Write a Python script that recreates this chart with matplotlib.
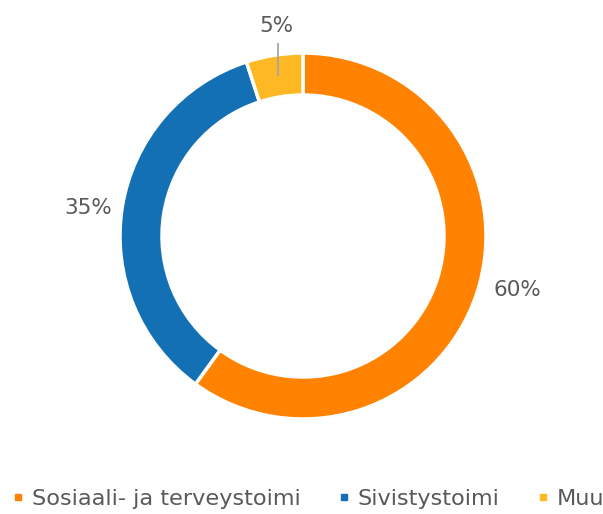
import matplotlib
matplotlib.use("Agg")
import matplotlib.pyplot as plt
from matplotlib.lines import Line2D
import numpy as np

categories = ["Sosiaali- ja terveystoimi", "Sivistystoimi", "Muu"]
values = [60, 35, 5]
labels = ["60%", "35%", "5%"]
colors = ["#FF8300", "#1470B5", "#FDB823"]

plt.rcParams['font.family'] = ['DejaVu Sans']
text_color = "#595959"

W, H = 603, 514
fig = plt.figure(figsize=(W / 100, H / 100), dpi=100)
ax = fig.add_axes([0, 0, 1, 1])
cx, cy = 303, H - 236
R = 183
width = 42

wedges, _ = ax.pie(values, colors=colors, startangle=90, counterclock=False,
                   radius=R, center=(cx, cy),
                   wedgeprops=dict(width=width, edgecolor="white", linewidth=2.5))

label_offsets = [(5, 14), (2, -6), (0, 0)]
for w, lab, off in zip(wedges, labels, label_offsets):
    ang = np.deg2rad((w.theta1 + w.theta2) / 2)
    if lab == "5%":
        rm = R - width / 2
        x0 = cx + rm * np.cos(ang)
        y0 = cy + rm * np.sin(ang)
        ax.plot([x0, x0], [y0, H - 43], color="#A6A6A6", lw=1.3, solid_capstyle="butt")
        ax.text(x0 - 1, H - 26, lab, ha="center", va="center", fontsize=15.5,
                color=text_color)
    else:
        rl = 220
        ax.text(cx + rl * np.cos(ang) + off[0], cy + rl * np.sin(ang) + off[1], lab,
                ha="center", va="center", fontsize=15.5, color=text_color)

ax.set_xlim(0, W)
ax.set_ylim(0, H)
ax.set_aspect("equal")
ax.axis("off")

handles = [Line2D([0], [0], marker="s", linestyle="none", markersize=4.5,
                  markerfacecolor=c, markeredgecolor=c) for c in colors]
fig.legend(handles, categories, loc="center", bbox_to_anchor=(0.512, 1 - 499 / H),
           ncol=3, frameon=False, fontsize=16.1, labelcolor=text_color,
           handlelength=0.4, handletextpad=0.4, columnspacing=1.75)

fig.savefig("out.png", dpi=100)
